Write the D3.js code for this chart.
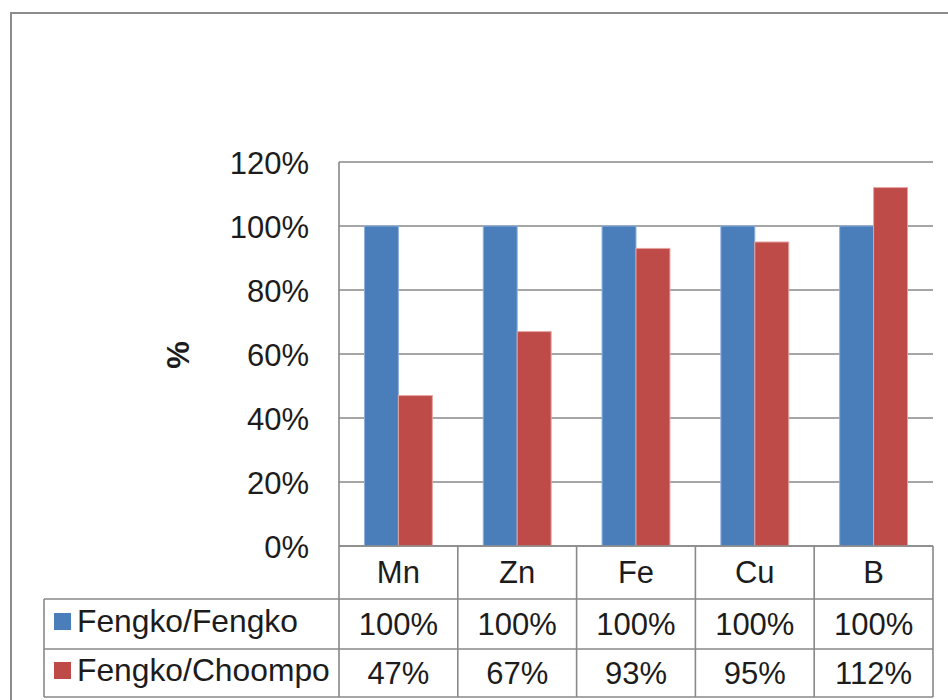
<!DOCTYPE html>
<html>
<head>
<meta charset="utf-8">
<script src="https://cdn.jsdelivr.net/npm/d3@7"></script>
<style>
html,body{margin:0;padding:0;background:#fff;}
svg{display:block;}
text{font-family:"Liberation Sans",Arial,sans-serif;fill:#1c1c1c;}
</style>
</head>
<body>
<svg id="chart" width="948" height="700"></svg>
<script>
const categories = ["Mn", "Zn", "Fe", "Cu", "B"];
const seriesNames = ["Fengko/Fengko", "Fengko/Choompo"];
const fengkoFengko = [1.00, 1.00, 1.00, 1.00, 1.00];
const fengkoChoompo = [0.47, 0.67, 0.93, 0.95, 1.12];
const yTicks = [0, 0.2, 0.4, 0.6, 0.8, 1.0, 1.2];
const colors = ["#4A7EBB", "#BE4B48"];
const strokes = ["#8db0dd", "#e3a3a1"];

const series = [fengkoFengko, fengkoChoompo];
const svg = d3.select("#chart");
const grid = "#888888";
const fs = 31;

const plotL = 339, plotR = 933, plotT = 162, plotB = 546;
const row1 = 599, row2 = 649, row3 = 697, tableL = 44;

// outer frame
svg.append("rect").attr("x", 11).attr("y", 13).attr("width", 980).attr("height", 740)
  .attr("fill", "none").attr("stroke", "#8c8c8c").attr("stroke-width", 2);

const x = d3.scaleBand().domain(categories).range([plotL, plotR]).paddingInner(0).paddingOuter(0);
const bw = x.bandwidth() / 3.5;
const x1 = d3.scaleBand().domain(d3.range(series.length)).range([0, bw * series.length]);
const y = d3.scaleLinear().domain([0, 1.2]).range([plotB, plotT]);
const fmt = d3.format(".0%");

// gridlines
svg.append("g").selectAll("line").data(yTicks).join("line")
  .attr("x1", plotL).attr("x2", plotR)
  .attr("y1", d => y(d)).attr("y2", d => y(d))
  .attr("stroke", grid).attr("stroke-width", 1.6);

// y axis tick labels
const yAxis = d3.axisLeft(y).tickValues(yTicks).tickFormat(fmt).tickSize(0).tickPadding(30);
const ya = svg.append("g").attr("transform", `translate(${plotL},0)`).call(yAxis);
ya.select(".domain").remove();
ya.selectAll("text").attr("font-size", fs).attr("font-family", '"Liberation Sans",Arial,sans-serif')
  .attr("fill", "#1c1c1c").attr("dy", "0.36em");

// axis title
svg.append("text").attr("transform", "translate(189,355) rotate(-90)")
  .attr("text-anchor", "middle").attr("font-size", 31).attr("font-weight", "bold").text("%");

// bars
const groups = svg.append("g").selectAll("g").data(categories).join("g")
  .attr("transform", c => `translate(${x(c) + (x.bandwidth() - bw * series.length) / 2},0)`);
groups.selectAll("rect").data((c, i) => series.map((s, k) => ({k, v: s[i]}))).join("rect")
  .attr("x", d => x1(d.k)).attr("width", x1.bandwidth())
  .attr("y", d => y(d.v)).attr("height", d => y(0) - y(d.v))
  .attr("fill", d => colors[d.k]).attr("stroke", d => strokes[d.k]).attr("stroke-width", 1);

// table lines
const tl = svg.append("g").attr("stroke", grid).attr("stroke-width", 1.6);
tl.append("line").attr("x1", plotL).attr("x2", plotR).attr("y1", plotB).attr("y2", plotB);
[row1, row2, row3].forEach(r => tl.append("line").attr("x1", tableL).attr("x2", plotR).attr("y1", r).attr("y2", r));
tl.append("line").attr("x1", plotL).attr("x2", plotL).attr("y1", plotT).attr("y2", row3);
tl.append("line").attr("x1", tableL).attr("x2", tableL).attr("y1", row1).attr("y2", row3);
categories.forEach(c => tl.append("line").attr("x1", x(c) + x.bandwidth()).attr("x2", x(c) + x.bandwidth())
  .attr("y1", plotB).attr("y2", row3));

// category labels
svg.append("g").selectAll("text").data(categories).join("text")
  .attr("x", c => x(c) + x.bandwidth() / 2).attr("y", 583)
  .attr("text-anchor", "middle").attr("font-size", fs).text(c => c);

// table values
const rowBase = [635, 684];
series.forEach((s, k) => {
  svg.append("g").selectAll("text").data(categories).join("text")
    .attr("x", c => x(c) + x.bandwidth() / 2).attr("y", rowBase[k])
    .attr("text-anchor", "middle").attr("font-size", fs).text((c, i) => fmt(s[i]));
  svg.append("rect").attr("x", 54).attr("y", rowBase[k] - 22).attr("width", 17).attr("height", 17)
    .attr("fill", colors[k]);
  svg.append("text").attr("x", 77).attr("y", rowBase[k] - 3).attr("font-size", 31.8).text(seriesNames[k]);
});
</script>
</body>
</html>
